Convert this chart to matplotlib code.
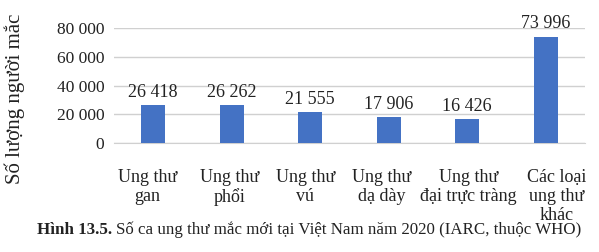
import matplotlib.pyplot as plt
from matplotlib.transforms import ScaledTranslation

plt.rcParams['font.family'] = ['Liberation Serif', 'DejaVu Serif']

# dữ liệu
categories = ["Ung thư\ngan", "Ung thư\nphổi", "Ung thư\nvú", "Ung thư\ndạ dày",
              "Ung thư\nđại trực tràng", "Các loại\nung thư\nkhác"]
values = [26418, 26262, 21555, 17906, 16426, 73996]
value_labels = ["26 418", "26 262", "21 555", "17 906", "16 426", "73 996"]
yticks = [0, 20000, 40000, 60000, 80000]
ytick_labels = ["0", "20 000", "40 000", "60 000", "80 000"]

fig = plt.figure(figsize=(5.99, 2.52), dpi=100)
ax = fig.add_axes([114 / 599, 1 - 143 / 252, 471 / 599, 115 / 252])

x = range(len(values))
ax.bar(x, values, width=0.31, color="#4472C4", zorder=3)
for i, v in enumerate(values):
    ax.text(i, v + 3000, value_labels[i], ha="center", va="bottom",
            fontsize=13, color="#222222", clip_on=False)

ax.set_xlim(-0.5, len(values) - 0.5)
ax.set_ylim(0, 80000)
ax.set_yticks(yticks)
ax.set_yticklabels(ytick_labels, fontsize=12.5, color="#222222")
ax.set_xticks(list(x))
ax.set_xticklabels(categories, fontsize=13, color="#222222", linespacing=1.15)
ax.tick_params(length=0, pad=7)
ax.tick_params(axis="x", pad=19)
ax.grid(axis="y", color="#d0d0d0", linewidth=1, zorder=0)
for s in ["top", "right", "left"]:
    ax.spines[s].set_visible(False)
ax.spines["bottom"].set_color("#d0d0d0")

# nhãn trục x hơi lệch như hình gốc (đơn vị: điểm ảnh)
shifts = [-6, -2, -5, -7, 1, 11]
for lab, dx in zip(ax.get_xticklabels(), shifts):
    lab.set_transform(lab.get_transform() + ScaledTranslation(dx / 100, 0, fig.dpi_scale_trans))

fig.text(15 / 599, 1 - 99 / 252, "Số lượng người mắc", rotation=90,
         fontsize=15, ha="center", va="center", color="#222222")

# chú thích hình
t1 = fig.text(37 / 599, 1 - 230 / 252, "Hình 13.5.", fontsize=12.2,
              fontweight="bold", ha="left", va="center", color="#222222")
r = fig.canvas.get_renderer()
bb = t1.get_window_extent(renderer=r)
fig.text((bb.x1 + 4) / 599, 1 - 230 / 252,
         "Số ca ung thư mắc mới tại Việt Nam năm 2020 (IARC, thuộc WHO)",
         fontsize=12.2, ha="left", va="center", color="#222222")

fig.savefig("out.png", dpi=100)
